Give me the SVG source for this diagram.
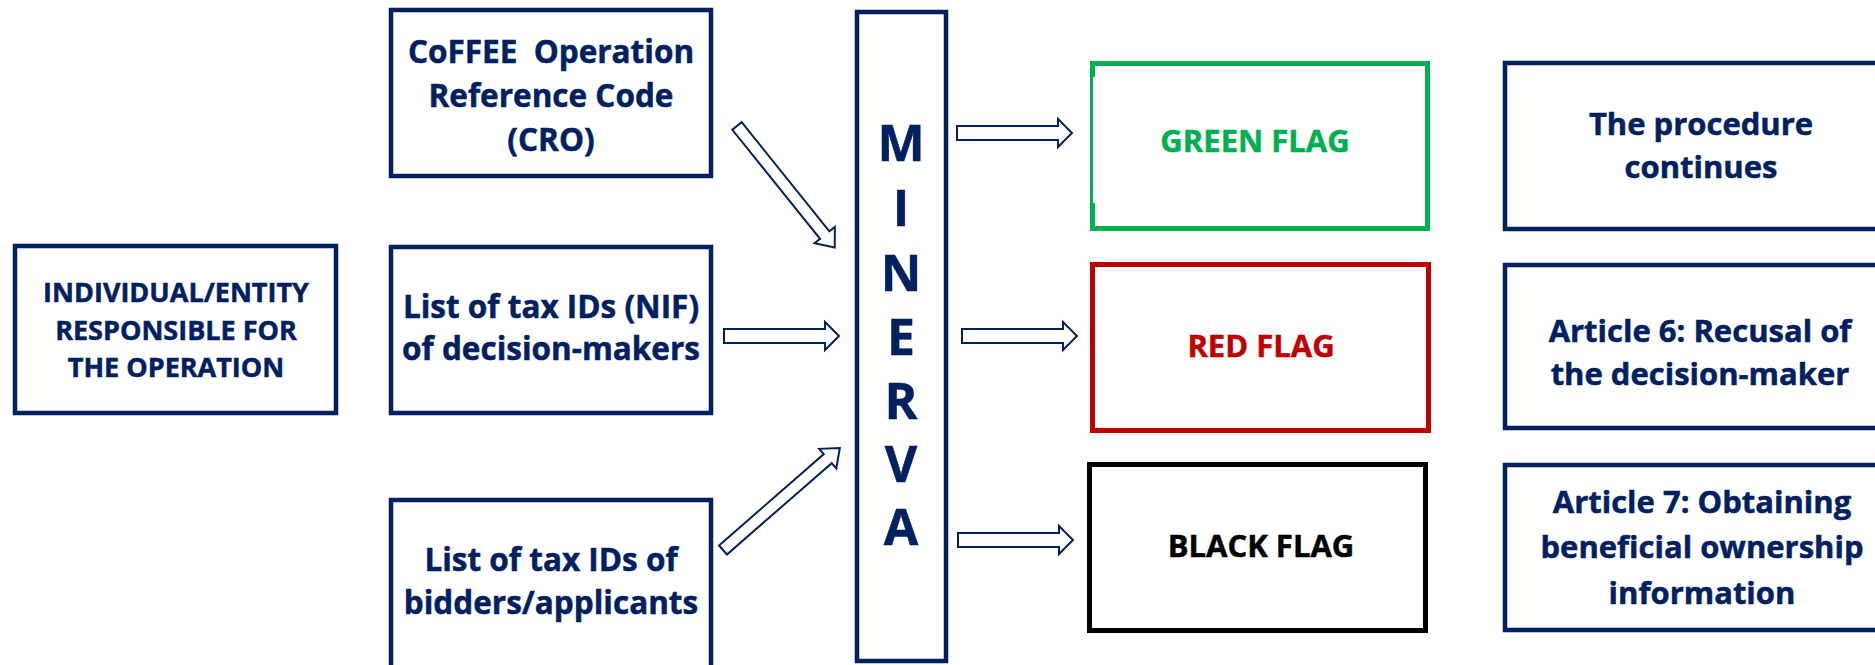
<svg xmlns="http://www.w3.org/2000/svg" width="1875" height="665" viewBox="0 0 1875 665">
<style>
.box{fill:#ffffff;stroke:#002060;stroke-width:4.5}
.t{font-family:"Open Sans","Noto Sans","Liberation Sans",sans-serif;font-weight:700;text-anchor:middle;fill:#002060;stroke:#002060;stroke-width:0.5}
.arr{fill:#ffffff;stroke:#002060;stroke-width:2;stroke-linejoin:miter}
</style>
<rect x="0" y="0" width="1875" height="665" fill="#ffffff"/>
<g id="entity">
<rect class="box" x="15" y="246" width="321" height="167"/>
<text class="t" font-size="27" x="176" y="302">INDIVIDUAL/ENTITY</text>
<text class="t" font-size="27" x="176" y="340">RESPONSIBLE FOR</text>
<text class="t" font-size="27" x="176" y="377">THE OPERATION</text>
</g>
<g id="cro">
<rect class="box" x="391" y="10" width="320" height="166"/>
<text class="t" font-size="31.5" x="551" y="63" xml:space="preserve">CoFFEE  Operation</text>
<text class="t" font-size="31.5" x="551" y="107">Reference Code</text>
<text class="t" font-size="31.5" x="551" y="151">(CRO)</text>
</g>
<g id="nif">
<rect class="box" x="391" y="247" width="320" height="166"/>
<text class="t" font-size="31.5" x="551" y="318">List of tax IDs (NIF)</text>
<text class="t" font-size="31.5" x="551" y="360">of decision-makers</text>
</g>
<g id="bidders">
<rect class="box" x="391" y="500" width="320" height="200"/>
<text class="t" font-size="31.5" x="551" y="571">List of tax IDs of</text>
<text class="t" font-size="31.5" x="551" y="614">bidders/applicants</text>
</g>
<g id="minerva">
<rect class="box" x="857" y="12" width="89" height="649"/>
<text class="t" font-size="50" x="901" y="161">M</text>
<text class="t" font-size="50" x="901" y="226">I</text>
<text class="t" font-size="50" x="901" y="291">N</text>
<text class="t" font-size="50" x="901" y="355">E</text>
<text class="t" font-size="50" x="901" y="419">R</text>
<text class="t" font-size="50" x="901" y="482">V</text>
<text class="t" font-size="50" x="901" y="545">A</text>
</g>
<g id="green-flag">
<rect x="1092.5" y="63.5" width="335" height="165" fill="#ffffff" stroke="#00B050" stroke-width="5"/>
<rect x="1093" y="77" width="2.5" height="126" fill="#ffffff"/>
<text class="t" font-size="31" x="1255" y="152" style="fill:#00B050;stroke:#00B050">GREEN FLAG</text>
</g>
<g id="red-flag">
<rect x="1092.5" y="264.5" width="336" height="166" fill="#ffffff" stroke="#C00000" stroke-width="5"/>
<text class="t" font-size="31" x="1261" y="357" style="fill:#C00000;stroke:#C00000">RED FLAG</text>
</g>
<g id="black-flag">
<rect x="1089.5" y="464.5" width="336" height="166" fill="#ffffff" stroke="#000000" stroke-width="5"/>
<text class="t" font-size="31" x="1261" y="557" style="fill:#000000;stroke:#000000">BLACK FLAG</text>
</g>
<g id="continues">
<rect class="box" x="1505" y="63" width="420" height="166"/>
<text class="t" font-size="31" x="1701" y="135">The procedure</text>
<text class="t" font-size="31" x="1701" y="178">continues</text>
</g>
<g id="article6">
<rect class="box" x="1505" y="265" width="420" height="163"/>
<text class="t" font-size="31" x="1700" y="342">Article 6: Recusal of</text>
<text class="t" font-size="31" x="1700" y="385">the decision-maker</text>
</g>
<g id="article7">
<rect class="box" x="1505" y="465" width="420" height="165"/>
<text class="t" font-size="31" x="1702" y="513">Article 7: Obtaining</text>
<text class="t" font-size="31" x="1702" y="558">beneficial ownership</text>
<text class="t" font-size="31" x="1702" y="604">information</text>
</g>
<g id="connectors">
<polygon class="arr" transform="translate(737,126) rotate(51.2)" points="0,-6 140,-6 140,-13 156,0 140,13 140,6 0,6"/>
<polygon class="arr" points="724,329 825,329 825,322 839,336 825,350 825,343 724,343"/>
<polygon class="arr" transform="translate(723,550) rotate(-41.1)" points="0,-6 139,-6 139,-13 155,0 139,13 139,6 0,6"/>
<polygon class="arr" points="957,126 1058,126 1058,119 1072,133 1058,147 1058,140 957,140"/>
<polygon class="arr" points="962,329 1063,329 1063,322 1077,336 1063,350 1063,343 962,343"/>
<polygon class="arr" points="958,533 1059,533 1059,526 1073,540 1059,554 1059,547 958,547"/>
</g>
</svg>
